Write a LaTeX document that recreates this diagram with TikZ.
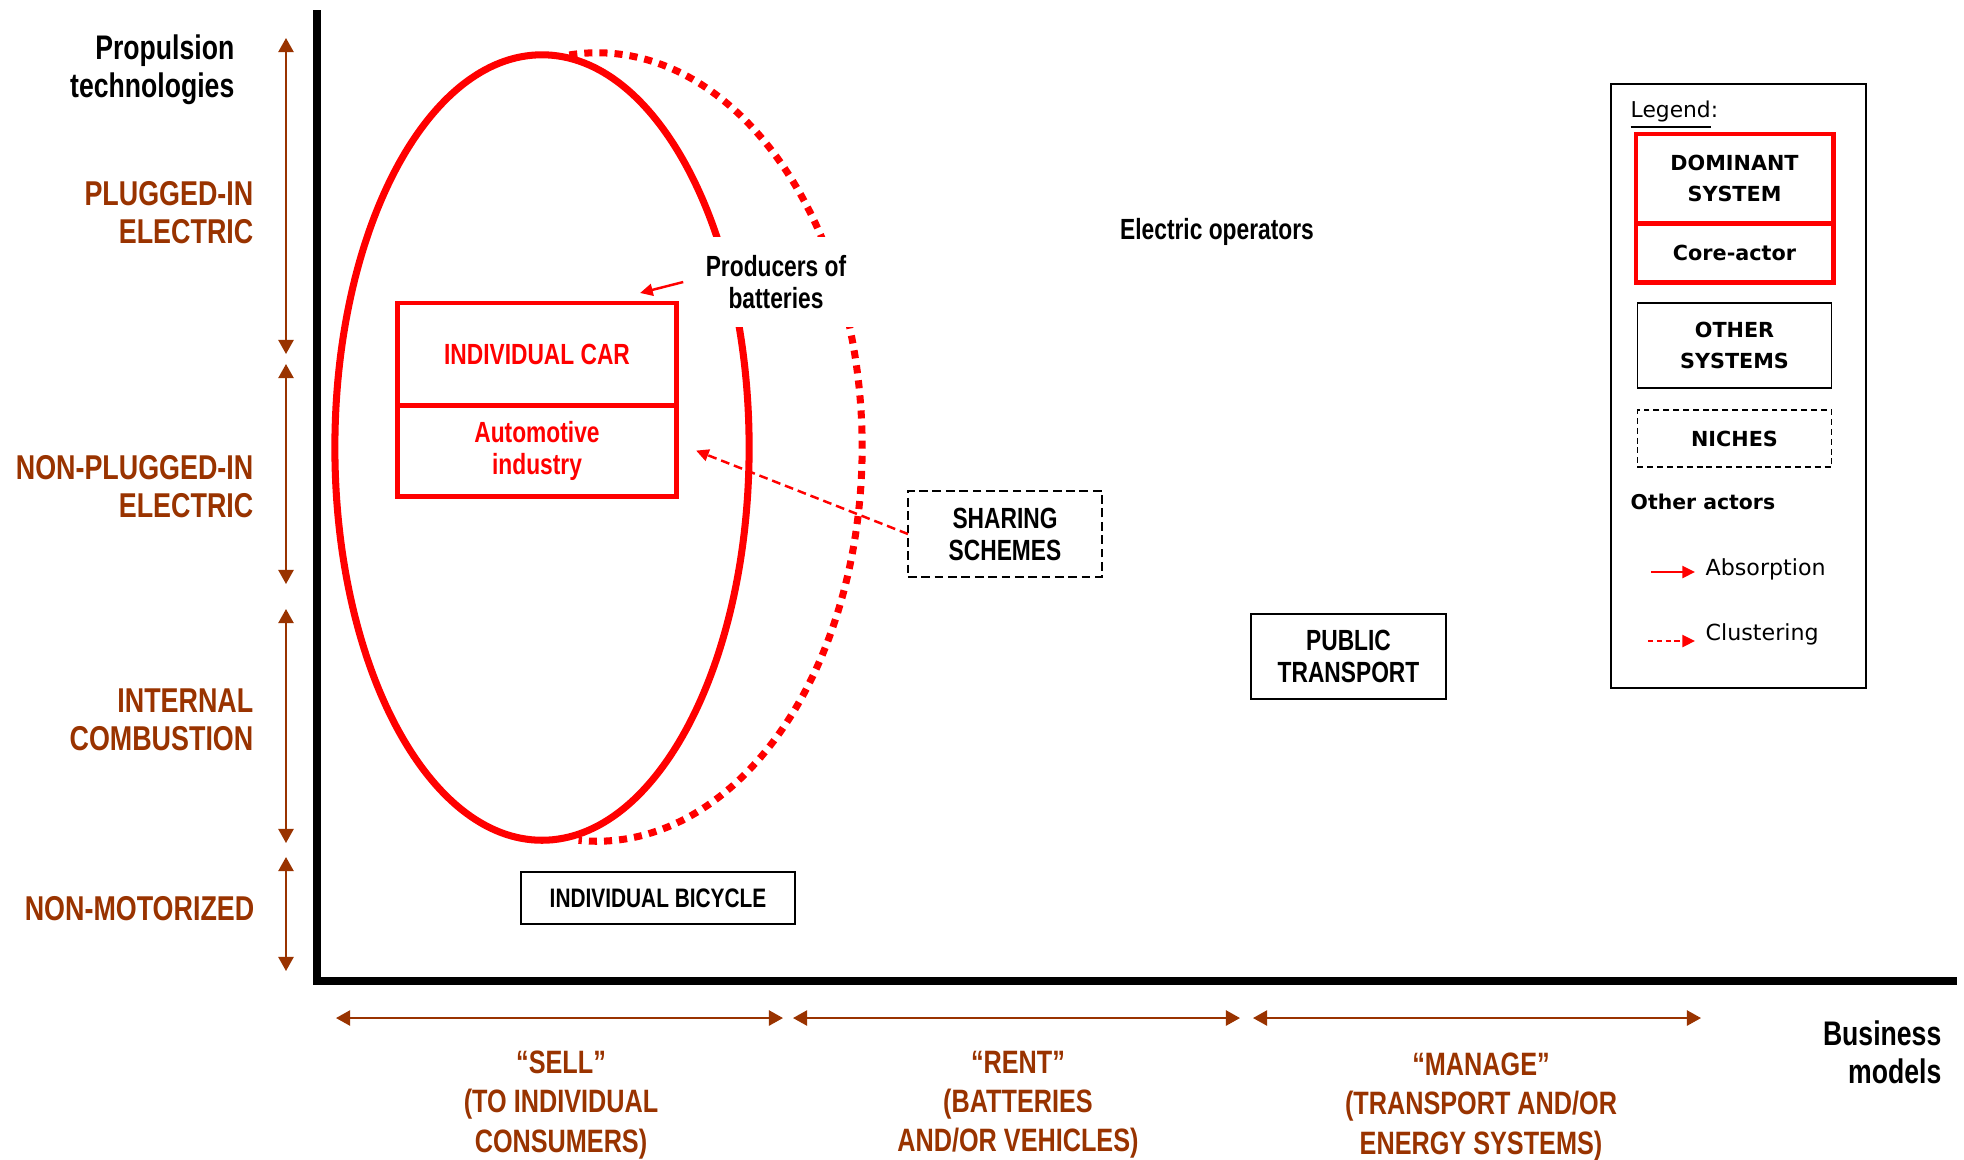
\documentclass[tikz,border=0pt]{standalone}
\usepackage{fontspec}
\newfontfamily\condfont{Liberation Sans}[FakeStretch=0.78]
\newfontfamily\legfont{DejaVu Sans}
\usetikzlibrary{arrows.meta,positioning}
\definecolor{brn}{RGB}{153,51,0}

\tikzset{
  scalelab/.style={anchor=east, align=right, inner sep=0pt, text=brn, font=\condfont\bfseries\fontsize{9.8}{10.8}\selectfont},
  axislab/.style={anchor=east, align=right, inner sep=0pt, font=\condfont\bfseries\fontsize{9.7}{10.8}\selectfont},
  modellab/.style={align=center, inner sep=0pt, text=brn, font=\condfont\bfseries\fontsize{9.2}{11.1}\selectfont},
  boxtext/.style={align=center, inner sep=0pt, outer sep=0pt, font=\condfont\bfseries\fontsize{8.3}{9.1}\selectfont},
  dombox/.style={boxtext, draw=red, line width=1.4pt, text=red, minimum width=2.78cm},
  sysbox/.style={boxtext, draw, line width=0.6pt},
  nichebox/.style={sysbox, dash pattern=on 2.5pt off 1.3pt},
  legtext/.style={anchor=west, inner sep=0pt, font=\legfont\fontsize{6.3}{7}\selectfont},
  legbox/.style={align=center, inner sep=0pt, outer sep=0pt, line width=0.5pt, minimum width=1.94cm, font=\legfont\bfseries\fontsize{5.9}{8.8}\selectfont},
  scalearrow/.style={brn, line width=0.6pt, {Triangle[length=4pt,width=4.3pt]}-{Triangle[length=4pt,width=4.3pt]}},
  absorb/.style={red, line width=0.7pt, -{Triangle[length=3.6pt,width=3.4pt]}},
  cluster/.style={absorb, dash pattern=on 2.5pt off 1.4pt},
}

\begin{document}
\begin{tikzpicture}[x=0.01cm, y=0.01cm]
        \useasboundingbox (0,0) rectangle (1964,-1159);
        \draw[line width=2.3pt] (317,-10) -- (317,-981) -- (1957,-981);
        \foreach \a/\b in {38/354,364/584,609/843,857/971}
          \draw[scalearrow] (286,-\a) -- (286,-\b);
        \foreach \a/\b in {336/783,793/1240,1253/1701}
          \draw[scalearrow] (\a,-1018) -- (\b,-1018);

        \draw node[axislab] (prop) at (235,-70) {Propulsion\\technologies};
        \draw node[scalelab] (plug) at (254,-213) {PLUGGED-IN\\ELECTRIC};
        \draw node[scalelab] (nonplug) at (254,-487) {NON-PLUGGED-IN\\ELECTRIC};
        \draw node[scalelab] (combust) at (254,-720) {INTERNAL\\COMBUSTION};
        \draw node[scalelab] (nonmot) at (255,-909) {NON-MOTORIZED};
        \draw node[modellab] (sell) at (561,-1105) {“SELL”\\(TO INDIVIDUAL\\CONSUMERS)};
        \draw node[modellab] (rent) at (1018,-1105) {“RENT”\\(BATTERIES\\AND/OR VEHICLES)};
        \draw node[modellab] (manage) at (1481,-1107) {“MANAGE”\\(TRANSPORT AND/OR\\ENERGY SYSTEMS)};
        \draw node[axislab] (busmod) at (1942,-1052) {Business\\models};

        \draw[red, line width=2pt] (542,-447.5) ellipse [x radius=2.07cm, y radius=3.925cm];
        \draw[red, line width=2pt, dash pattern=on 2.3pt off 2pt] (597,-447) ++(96:2.65cm and 3.94cm)
          arc [start angle=96, end angle=-94, x radius=2.65cm, y radius=3.94cm];

        \draw node[dombox, minimum height=1.02cm] (car) at (537,-354) {INDIVIDUAL CAR};
        \draw node[dombox, minimum height=0.91cm, below=0pt of car] (auto) {Automotive\\industry};
        \draw node[boxtext, fill=white, inner xsep=3pt, inner ysep=5.2pt] (prod) at (776,-282) {Producers of\\batteries};
        \coordinate (prodtip) at ([shift={(-36,10)}]car.north east);
        \draw[absorb] ([xshift=-0.12cm]prod.west) -- (prodtip);

        \draw node[nichebox, minimum width=1.94cm, minimum height=0.86cm] (share) at (1005,-534) {SHARING\\SCHEMES};
        \draw[cluster] (share.west) -- ([xshift=0.2cm]auto.east);
        \draw node[boxtext] (elec) at (1217,-232) {Electric operators};
        \draw node[sysbox, minimum width=1.95cm, minimum height=0.85cm] (pubtr) at (1348.5,-656.5) {PUBLIC\\TRANSPORT};
        \draw node[sysbox, minimum width=2.74cm, minimum height=0.52cm, font=\condfont\bfseries\fontsize{7.6}{9}\selectfont] (bike) at (658,-898) {INDIVIDUAL BICYCLE};

        \draw node[draw, line width=0.5pt, minimum width=2.55cm, minimum height=6.04cm] (leg) at (1738.5,-386) {};
        \draw node[legtext, font=\legfont\fontsize{6.2}{7}\selectfont] (legtitle) at (1630,-115) {\underline{Legend}:};
        \draw node[legbox, draw=red, line width=1.4pt, minimum width=1.97cm, minimum height=0.89cm] (ldom) at (1734.5,-178.5) {DOMINANT\\SYSTEM};
        \draw node[legbox, draw=red, line width=1.4pt, minimum width=1.97cm, minimum height=0.59cm, below=0pt of ldom] (lcore) {Core-actor};
        \draw node[legbox, draw, minimum height=0.85cm, below=0.21cm of lcore] (loth) {OTHER\\SYSTEMS};
        \draw node[legbox, draw, dash pattern=on 1.7pt off 1.1pt, minimum height=0.57cm, below=0.22cm of loth] (lniche) {NICHES};
        \draw node[legtext, font=\legfont\bfseries\fontsize{5.8}{7}\selectfont] (lactors) at (1630,-502) {Other actors};
        \draw node[legtext] (labsorb) at (1705,-569) {Absorption};
        \draw node[legtext] (lcluster) at (1705,-634) {Clustering};
        \draw[absorb] ([shift={(-54,-3)}]labsorb.west) -- ([shift={(-10,-3)}]labsorb.west);
        \draw[cluster, dash pattern=on 1.5pt off 1pt] ([shift={(-57,-7)}]lcluster.west) -- ([shift={(-10,-7)}]lcluster.west);
\end{tikzpicture}
\end{document}
